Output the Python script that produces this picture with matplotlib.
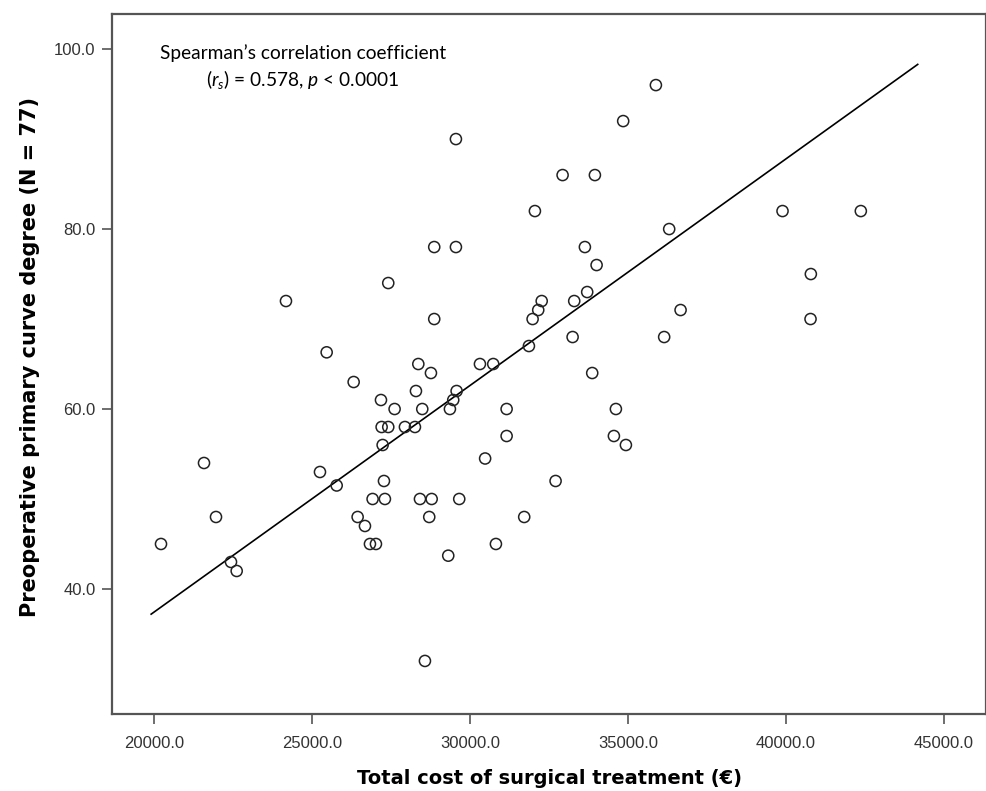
import matplotlib

matplotlib.use("Agg")
import matplotlib.pyplot as plt
from matplotlib.ticker import StrMethodFormatter


# values (cost in euro, curve in degrees)
COST = [
    20212, 21574, 21954, 22429, 22609, 24170, 25247, 25459, 25776, 26314,
    26440, 26672, 26830, 27020, 26914, 27304, 27274, 27232, 27200, 27410,
    27179, 27611, 27410, 27938, 28255, 28287, 28362, 28487, 28414, 28785,
    28708, 28572, 28762, 28866, 28866, 29553, 29553, 29310, 29658, 29363,
    29468, 29575, 30314, 30735, 30478, 30820, 31159, 31159, 31716, 31865,
    31982, 32160, 32270, 32055, 32710, 32932, 33300, 33249, 33711, 33638,
    33870, 33955, 34009, 34557, 34620, 34851, 34937, 35887, 36149, 36308,
    36669, 39898, 40795, 40785, 42378,
]
CURVE = [
    45, 54, 48, 43, 42, 72, 53, 66.3, 51.5, 63,
    48, 47, 45, 45, 50, 50, 52, 56, 58, 58,
    61, 60, 74, 58, 58, 62, 65, 60, 50, 50,
    48, 32, 64, 70, 78, 78, 90, 43.7, 50, 60,
    61, 62, 65, 65, 54.5, 45, 60, 57, 48, 67,
    70, 71, 72, 82, 52, 86, 72, 68, 73, 78,
    64, 86, 76, 57, 60, 92, 56, 96, 68, 80,
    71, 82, 75, 70, 82,
]

# end points of the fitted line as drawn in the reference
FIT_COST = [19900, 44180]
FIT_CURVE = [37.2, 98.3]

X_TICKS = [20000, 25000, 30000, 35000, 40000, 45000]
Y_TICKS = [40, 60, 80, 100]

ANNOTATION_TITLE = "Spearman\u2019s correlation coefficient"
ANNOTATION_STATS = r"($r_s$) = 0.578, $p$ < 0.0001"

SPINE_COLOR = "#555555"
TICK_LABEL_COLOR = "#333333"


def main():
    plt.rcParams["mathtext.fontset"] = "custom"
    plt.rcParams["mathtext.rm"] = "Lato"
    plt.rcParams["mathtext.it"] = "Lato:italic"

    figure = plt.figure(figsize=(9.87, 7.91), dpi=100, facecolor="white")
    axis = figure.add_axes([0.1138, 0.0973, 0.885, 0.885])

    axis.plot(FIT_COST, FIT_CURVE, color="black", linewidth=1.2, zorder=2)
    axis.scatter(
        COST,
        CURVE,
        s=64,
        facecolors="none",
        edgecolors="#222222",
        linewidths=1.1,
        zorder=3,
    )

    axis.set_xlim(18670, 46337)
    axis.set_ylim(26.1, 103.9)
    axis.set_xticks(X_TICKS)
    axis.set_yticks(Y_TICKS)
    axis.xaxis.set_major_formatter(StrMethodFormatter("{x:.1f}"))
    axis.yaxis.set_major_formatter(StrMethodFormatter("{x:.1f}"))

    for spine in axis.spines.values():
        spine.set_color(SPINE_COLOR)
        spine.set_linewidth(1.6)

    axis.tick_params(
        axis="both",
        direction="out",
        length=7,
        width=1.2,
        color=SPINE_COLOR,
        labelcolor=TICK_LABEL_COLOR,
        labelsize=12,
        top=False,
        right=False,
    )
    axis.tick_params(axis="x", pad=9)
    axis.tick_params(axis="y", pad=5)
    for label in axis.get_xticklabels() + axis.get_yticklabels():
        label.set_family("Liberation Sans")

    axis.set_xlabel(
        "Total cost of surgical treatment (\u20ac)",
        fontsize=14,
        fontweight="bold",
        family="DejaVu Sans",
    )
    axis.set_ylabel(
        "Preoperative primary curve degree (N = 77)",
        fontsize=15,
        fontweight="bold",
        family="DejaVu Sans",
    )
    axis.xaxis.set_label_coords(0.5, -0.079)
    axis.yaxis.set_label_coords(-0.083, 0.51)

    axis.text(
        0.218, 0.944, ANNOTATION_TITLE,
        transform=axis.transAxes, ha="center", va="center",
        fontsize=13.8, family="Lato", color="black",
    )
    axis.text(
        0.218, 0.906, ANNOTATION_STATS,
        transform=axis.transAxes, ha="center", va="center",
        fontsize=13.8, family="Lato", color="black",
    )

    figure.savefig("out.png", dpi=100, facecolor="white")
    plt.close(figure)


if __name__ == "__main__":
    main()
